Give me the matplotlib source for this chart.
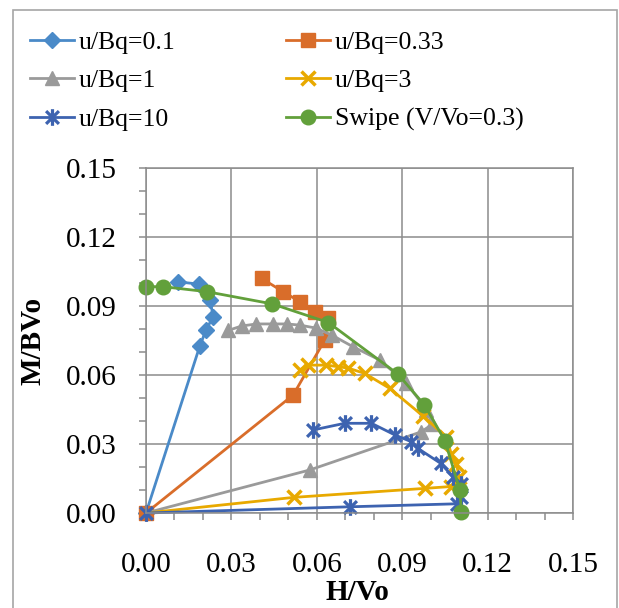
import numpy as np
import matplotlib
matplotlib.use("Agg")
import matplotlib.pyplot as plt
from matplotlib.path import Path
from matplotlib.patches import Rectangle
from matplotlib.ticker import MultipleLocator, FormatStrFormatter

plt.rcParams["font.family"] = ["Liberation Serif", "DejaVu Serif"]

# data (H/Vo, M/BVo)
labels = ["u/Bq=0.1", "u/Bq=0.33", "u/Bq=1", "u/Bq=3", "u/Bq=10", "Swipe (V/Vo=0.3)"]

h_01 = [0.0, 0.0189, 0.0211, 0.0236, 0.0225, 0.0187, 0.0113]
m_01 = [0.0, 0.0726, 0.0796, 0.0854, 0.0926, 0.0995, 0.1005]

h_033 = [0.0, 0.0517, 0.0628, 0.0640, 0.0593, 0.0540, 0.0482, 0.0406]
m_033 = [0.0, 0.0513, 0.0752, 0.0846, 0.0875, 0.0919, 0.0962, 0.1020]

h_1 = [0.0, 0.0575, 0.0967, 0.1005, 0.0985, 0.0915, 0.0821, 0.0727, 0.0655,
       0.0597, 0.0540, 0.0494, 0.0447, 0.0388, 0.0336, 0.0289]
m_1 = [0.0, 0.0187, 0.0353, 0.0385, 0.0450, 0.0564, 0.0665, 0.0723, 0.0772,
       0.0804, 0.0817, 0.0822, 0.0822, 0.0822, 0.0813, 0.0794]

h_3 = [0.0, 0.0520, 0.0979, 0.1070, 0.1100, 0.1090, 0.1073, 0.1055, 0.0973,
       0.0856, 0.0768, 0.0710, 0.0675, 0.0634, 0.0570, 0.0540]
m_3 = [0.0, 0.0068, 0.0107, 0.0115, 0.0158, 0.0215, 0.0255, 0.0330, 0.0422,
       0.0542, 0.0607, 0.0630, 0.0636, 0.0643, 0.0643, 0.0622]

h_10 = [0.0, 0.0716, 0.1092, 0.1106, 0.1106, 0.1078, 0.1035, 0.0955, 0.0932,
        0.0875, 0.0792, 0.0698, 0.0587]
m_10 = [0.0, 0.0027, 0.0040, 0.0070, 0.0128, 0.0158, 0.0216, 0.0281, 0.0310,
        0.0339, 0.0390, 0.0390, 0.0361]

h_sw = [0.0, 0.0061, 0.0215, 0.0444, 0.0641, 0.0885, 0.0978, 0.1050, 0.1102, 0.1108]
m_sw = [0.0984, 0.0984, 0.0962, 0.0909, 0.0828, 0.0604, 0.0470, 0.0315, 0.0102, 0.0006]

colors = ["#4A8AC8", "#D96D2A", "#9A9A9A", "#E8A900", "#3D63B0", "#62A03B"]

# excel style star: X with a vertical bar
star = Path([(-1, -1), (1, 1), (-1, 1), (1, -1), (0, -1.3), (0, 1.3)],
            [Path.MOVETO, Path.LINETO, Path.MOVETO, Path.LINETO, Path.MOVETO, Path.LINETO])

W, H = 619, 608
fig = plt.figure(figsize=(W / 100, H / 100), dpi=100)
fig.patches.append(Rectangle((13 / W, -0.1), (617 - 13) / W, 1.1 - 10 / H,
                             transform=fig.transFigure, fill=False,
                             edgecolor="#A6A6A6", lw=1.2))

ax = fig.add_axes([146 / W, 1 - 513 / H, (573 - 146) / W, (513 - 168) / H])

lines = []
lines += ax.plot(h_01, m_01, color=colors[0], lw=2, marker="D", ms=8, label=labels[0])
lines += ax.plot(h_033, m_033, color=colors[1], lw=2, marker="s", ms=10, label=labels[1])
# origin markers of these two are hidden under the others in the reference
lines += ax.plot(h_1, m_1, color=colors[2], lw=2, marker="^", ms=10,
                 markevery=slice(1, None), label=labels[2])
lines += ax.plot(h_3, m_3, color=colors[3], lw=2, marker="x", ms=10, mew=2.5,
                 markevery=slice(1, None), label=labels[3])
lines += ax.plot(h_10, m_10, color=colors[4], lw=2, marker=star, ms=12, mew=2.3,
                 mfc="none", label=labels[4])
lines += ax.plot(h_sw, m_sw, color=colors[5], lw=2, marker="o", ms=10.5, label=labels[5])
for ln in lines:
    ln.set_clip_on(False)

ax.set_xlim(0, 0.15)
ax.set_ylim(0, 0.15)
ax.xaxis.set_major_locator(MultipleLocator(0.03))
ax.yaxis.set_major_locator(MultipleLocator(0.03))
ax.xaxis.set_minor_locator(MultipleLocator(0.01))
ax.yaxis.set_minor_locator(MultipleLocator(0.01))
ax.xaxis.set_major_formatter(FormatStrFormatter("%.2f"))
ax.yaxis.set_major_formatter(FormatStrFormatter("%.2f"))

grid_c = "#8C8C8C"
ax.grid(True, which="major", color=grid_c, lw=1.1)
ax.set_axisbelow(True)
for s in ax.spines.values():
    s.set_color(grid_c)
    s.set_linewidth(1.1)
ax.tick_params(which="both", direction="out", color=grid_c, width=1.1, length=5,
               labelsize=21)
ax.tick_params(axis="x", which="major", pad=23)
ax.tick_params(axis="y", which="major", pad=16)

fig.text(357 / W, 1 - 592 / H, "H/Vo", fontsize=21, fontweight="bold",
         ha="center", va="center")
fig.text(33 / W, 1 - 341 / H, "M/BVo", fontsize=21, fontweight="bold",
         ha="center", va="center", rotation=90)

# excel fills the legend row by row
order = [0, 2, 4, 1, 3, 5]
fig.legend([lines[i] for i in order], [labels[i] for i in order],
           loc="upper left", bbox_to_anchor=(30 / W, 1 - 31 / H), ncol=2,
           frameon=False, fontsize=18.5, handlelength=1.7, handletextpad=0.2,
           columnspacing=4.3, labelspacing=0.6, borderpad=0, borderaxespad=0)

fig.savefig("out.png", dpi=100)
